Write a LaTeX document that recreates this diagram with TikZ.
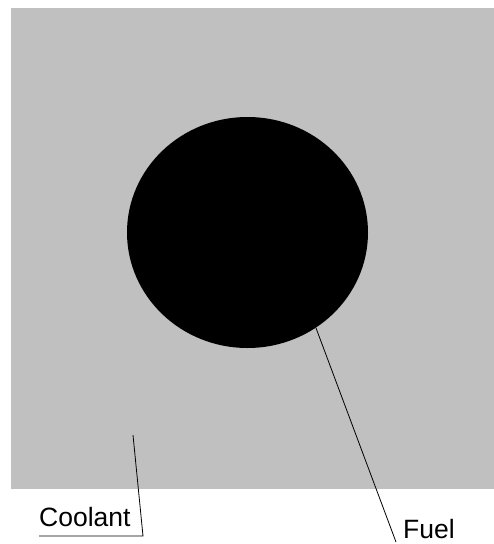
\documentclass[tikz,border=0pt]{standalone}
\usepackage{fontspec}
\setmainfont{Liberation Sans}
\usetikzlibrary{shapes.geometric}
\definecolor{coolgray}{HTML}{C0C0C0}
\begin{document}
\begin{tikzpicture}[x=1pt,y=-1pt,
  lbl/.style={inner sep=0pt,font=\fontsize{26.5}{30}\selectfont},
  leader/.style={draw=black,line width=0.8pt}]
\useasboundingbox (0,0) rectangle (494,544);
\fill[white] (0,0) rectangle (494,544);
\node[fill=coolgray,draw=none,minimum width=483pt,minimum height=481pt,inner sep=0pt,anchor=north west] (coolant area) at (11,8) {};
\fill[black] (247.5,232.5) ellipse [x radius=120.5pt, y radius=115.5pt];
\coordinate (fuelpt) at (316,328);
\coordinate (fuelend) at (396,542);
\coordinate (coolpt) at (133,435);
\coordinate (cu1) at (39,536);
\coordinate (cu2) at (143,536);
\node[lbl,anchor=base west] (coolant) at (39,526) {Coolant};
\node[lbl,anchor=base west] (fuel) at (403,538) {Fuel};
\draw[leader] (cu1) -- (cu2) -- (coolpt);
\draw[leader] (fuelpt) -- (fuelend);
\end{tikzpicture}
\end{document}
